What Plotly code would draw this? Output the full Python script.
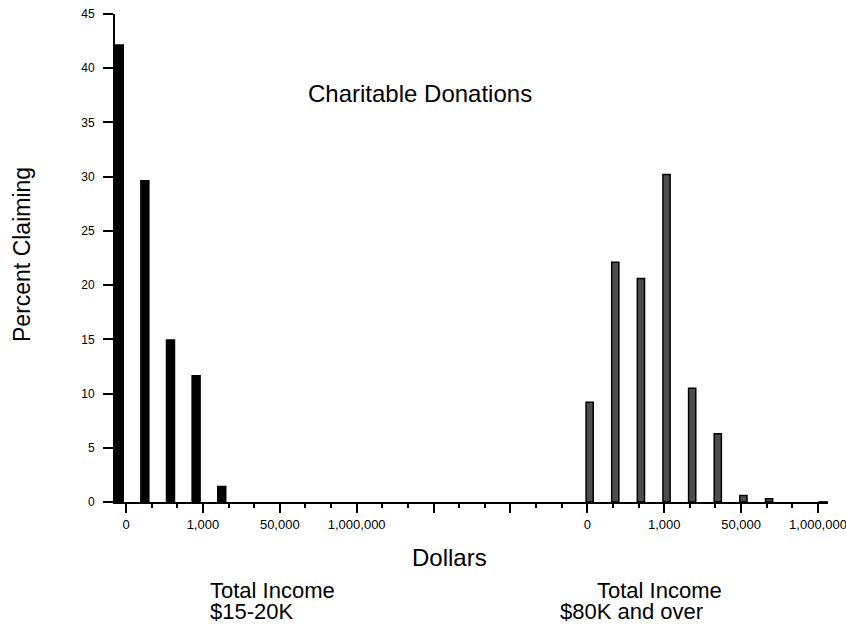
import plotly.graph_objects as go

# ---- data ----
left_bins = [0, 1, 2, 3, 4]                       # bin index on the dollar axis
left_pct = [42.2, 29.7, 15.0, 11.7, 1.5]          # Total income $15-20K
right_bins = [18, 19, 20, 21, 22, 23, 24, 25]
right_pct = [9.2, 22.1, 20.6, 30.2, 10.5, 6.3, 0.6, 0.3]  # Total income $80K and over

major_tickvals = [0, 3, 6, 9, 12, 15, 18, 21, 24, 27]
major_ticktext = ["0", "1,000", "50,000", "1,000,000", "", "",
                  "0", "1,000", "50,000", "1,000,000"]
y_ticks = [0, 5, 10, 15, 20, 25, 30, 35, 40, 45]

FONT = "Liberation Sans, Arial, sans-serif"
W, H = 846, 626
L, R, T, B = 115, 18, 14, 124   # plot area: x 115..828, y 14..502


def px(x, y):
    """pixel position -> paper coordinates"""
    return (x - L) / (W - L - R), (H - B - y) / (H - T - B)


fig = go.Figure()
fig.add_trace(go.Bar(
    x=left_bins, y=left_pct, width=0.37, offset=-0.45,
    marker=dict(color="#000000", line=dict(color="#000000", width=0)),
    showlegend=False,
))
fig.add_trace(go.Bar(
    x=right_bins, y=right_pct, width=0.28, offset=-0.05,
    marker=dict(color="#4d4d4d", line=dict(color="#000000", width=1.5)),
    showlegend=False,
))

fig.update_layout(
    width=W, height=H,
    margin=dict(l=L, r=R, t=T, b=B, pad=0, autoexpand=False),
    paper_bgcolor="white", plot_bgcolor="white",
    barmode="overlay",
    font=dict(family=FONT, color="black"),
)

fig.update_xaxes(
    range=[-0.43, 27.39], automargin=False,
    showgrid=False, zeroline=False,
    showline=True, linecolor="black", linewidth=2,
    tickmode="array", tickvals=major_tickvals, ticktext=major_ticktext,
    ticks="outside", ticklen=9, tickwidth=2, tickcolor="black",
    tickfont=dict(family=FONT, size=13, color="black"),
    ticklabeloverflow="allow",
    minor=dict(tickmode="linear", tick0=0, dtick=1, ticks="outside",
               ticklen=4, tickwidth=2, tickcolor="black", showgrid=False),
)
fig.update_yaxes(
    range=[0, 45], automargin=False,
    showgrid=False, zeroline=False,
    showline=True, linecolor="black", linewidth=2,
    tickmode="array", tickvals=y_ticks,
    ticks="outside", ticklen=10, tickwidth=2, tickcolor="black",
    tickfont=dict(family=FONT, size=12, color="black"),
    ticklabelstandoff=6,
)

# small blue segment at the right end of the x axis
fig.add_shape(type="line", xref="x", yref="y", x0=27.02, x1=27.39, y0=0, y1=0,
              layer="above", line=dict(color="#0000ff", width=2))


def note(text, x, y, size, xanchor="center", angle=0):
    ax, ay = px(x, y)
    fig.add_annotation(text=text, x=ax, y=ay, xref="paper", yref="paper",
                       xanchor=xanchor, yanchor="middle", showarrow=False,
                       textangle=angle,
                       font=dict(family=FONT, size=size, color="black"))


note("Charitable Donations", 420, 93, 24)
note("Percent Claiming", 22, 255, 23, angle=-90)
note("Dollars", 449, 557, 24)
note("Total Income", 208, 590, 22, xanchor="left")
note("$15-20K", 208, 611, 22, xanchor="left")
note("Total Income", 595, 590, 22, xanchor="left")
note("$80K and over", 558, 611, 22, xanchor="left")

fig.write_html("out.html", config={"displayModeBar": False},
               post_script="document.body.style.margin='0';")
